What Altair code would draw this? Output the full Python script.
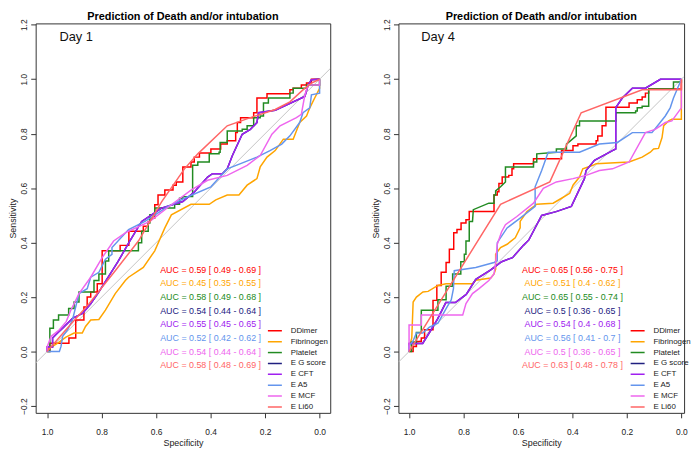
import altair as alt
import pandas as pd

SERIES = ["DDimer", "Fibrinogen", "Platelet", "E G score", "E CFT", "E A5", "E MCF", "E Li60"]
COLORS = ["#FF0000", "#FFA500", "#228B22", "#202080", "#A020F0", "#6495ED", "#EE66EE", "#FF6666"]

X_TICKS = [1.0, 0.8, 0.6, 0.4, 0.2, 0.0]
Y_TICKS = [-0.2, 0.0, 0.2, 0.4, 0.6, 0.8, 1.0, 1.2]

# ---------------- Day 1 ----------------
D1_DDIMER_SPEC = [1.0, 0.99, 0.99, 0.92, 0.92, 0.895, 0.895, 0.865, 0.865, 0.853, 0.853, 0.84, 0.84, 0.816, 0.816, 0.798, 0.798, 0.732, 0.732, 0.70, 0.70, 0.647, 0.647, 0.629, 0.629, 0.623, 0.623, 0.605, 0.605, 0.593, 0.593, 0.568, 0.568, 0.538, 0.538, 0.526, 0.526, 0.502, 0.502, 0.472, 0.472, 0.46, 0.46, 0.441, 0.441, 0.399, 0.399, 0.363, 0.363, 0.339, 0.339, 0.308, 0.308, 0.302, 0.302, 0.29, 0.29, 0.242, 0.242, 0.23, 0.23, 0.193, 0.193, 0.109, 0.109, 0.097, 0.097, 0.067, 0.067, 0.048, 0.048, 0.03, 0.03, 0.0]
D1_DDIMER_SENS = [0.0, 0.0, 0.031, 0.031, 0.05, 0.05, 0.116, 0.116, 0.164, 0.164, 0.2, 0.2, 0.219, 0.219, 0.249, 0.249, 0.37, 0.37, 0.39, 0.39, 0.442, 0.442, 0.46, 0.46, 0.478, 0.478, 0.49, 0.49, 0.539, 0.539, 0.575, 0.575, 0.593, 0.593, 0.611, 0.611, 0.623, 0.623, 0.678, 0.678, 0.696, 0.696, 0.714, 0.714, 0.729, 0.729, 0.744, 0.744, 0.762, 0.762, 0.774, 0.774, 0.804, 0.804, 0.841, 0.841, 0.859, 0.859, 0.877, 0.877, 0.931, 0.931, 0.947, 0.947, 0.961, 0.961, 0.967, 0.967, 0.979, 0.979, 0.986, 0.986, 1.0, 1.0]

D1_FIBR_SPEC = [1.0, 0.994, 0.98, 0.961, 0.931, 0.901, 0.871, 0.859, 0.84, 0.81, 0.786, 0.75, 0.713, 0.701, 0.647, 0.605, 0.568, 0.544, 0.472, 0.405, 0.381, 0.339, 0.296, 0.266, 0.23, 0.218, 0.193, 0.163, 0.133, 0.097, 0.073, 0.048, 0.036, 0.018, 0.0, 0.0]
D1_FIBR_SENS = [0.0, 0.013, 0.019, 0.031, 0.053, 0.068, 0.068, 0.092, 0.116, 0.118, 0.152, 0.213, 0.261, 0.273, 0.309, 0.37, 0.454, 0.502, 0.541, 0.541, 0.557, 0.575, 0.575, 0.611, 0.635, 0.678, 0.714, 0.738, 0.78, 0.78, 0.841, 0.865, 0.895, 0.931, 0.967, 1.0]

D1_PLT_SPEC = [1.0, 0.99, 0.99, 0.977, 0.977, 0.958, 0.958, 0.921, 0.921, 0.901, 0.901, 0.883, 0.883, 0.828, 0.828, 0.81, 0.81, 0.786, 0.786, 0.774, 0.774, 0.665, 0.665, 0.653, 0.653, 0.629, 0.629, 0.623, 0.623, 0.605, 0.605, 0.532, 0.532, 0.514, 0.514, 0.502, 0.502, 0.466, 0.466, 0.447, 0.447, 0.405, 0.405, 0.369, 0.369, 0.365, 0.365, 0.339, 0.339, 0.284, 0.284, 0.266, 0.266, 0.242, 0.242, 0.218, 0.218, 0.206, 0.206, 0.188, 0.188, 0.109, 0.109, 0.097, 0.097, 0.048, 0.048, 0.0, 0.0]
D1_PLT_SENS = [0.0, 0.0, 0.086, 0.086, 0.116, 0.116, 0.134, 0.134, 0.158, 0.158, 0.182, 0.182, 0.219, 0.219, 0.261, 0.261, 0.285, 0.285, 0.333, 0.333, 0.37, 0.37, 0.40, 0.40, 0.442, 0.442, 0.472, 0.472, 0.502, 0.502, 0.527, 0.527, 0.541, 0.541, 0.563, 0.563, 0.569, 0.569, 0.684, 0.684, 0.696, 0.696, 0.726, 0.726, 0.732, 0.732, 0.768, 0.768, 0.81, 0.81, 0.816, 0.816, 0.829, 0.829, 0.859, 0.859, 0.865, 0.865, 0.913, 0.913, 0.931, 0.931, 0.949, 0.949, 0.967, 0.967, 0.979, 0.979, 1.0]

D1_EG_SPEC = [1.0, 1.0, 0.98, 0.98, 0.96, 0.943, 0.907, 0.87, 0.84, 0.81, 0.78, 0.74, 0.70, 0.653, 0.58, 0.502, 0.459, 0.411, 0.393, 0.357, 0.339, 0.32, 0.284, 0.254, 0.23, 0.224, 0.163, 0.054, 0.042, 0.03, 0.0]
D1_EG_SENS = [0.0, 0.017, 0.017, 0.05, 0.07, 0.086, 0.122, 0.14, 0.175, 0.219, 0.267, 0.33, 0.40, 0.478, 0.527, 0.551, 0.587, 0.641, 0.653, 0.653, 0.671, 0.72, 0.798, 0.816, 0.841, 0.877, 0.886, 0.937, 0.979, 0.998, 1.0]

D1_CFT_SPEC = [1.0, 1.0, 0.98, 0.98, 0.96, 0.943, 0.907, 0.87, 0.84, 0.81, 0.78, 0.74, 0.70, 0.653, 0.58, 0.502, 0.459, 0.411, 0.393, 0.357, 0.339, 0.32, 0.284, 0.254, 0.23, 0.224, 0.163, 0.054, 0.042, 0.03, 0.0]
D1_CFT_SENS = [0.0, 0.017, 0.017, 0.05, 0.07, 0.086, 0.122, 0.14, 0.175, 0.219, 0.267, 0.33, 0.40, 0.478, 0.527, 0.551, 0.587, 0.641, 0.653, 0.653, 0.671, 0.72, 0.798, 0.816, 0.841, 0.877, 0.886, 0.937, 0.979, 0.998, 1.0]

D1_A5_SPEC = [1.0, 0.955, 0.949, 0.943, 0.925, 0.907, 0.883, 0.853, 0.84, 0.81, 0.786, 0.762, 0.762, 0.701, 0.641, 0.556, 0.496, 0.399, 0.339, 0.29, 0.23, 0.182, 0.139, 0.109, 0.073, 0.061, 0.036, 0.03, 0.0, 0.0]
D1_A5_SENS = [0.0, 0.0, 0.019, 0.056, 0.08, 0.116, 0.213, 0.231, 0.273, 0.291, 0.339, 0.357, 0.382, 0.448, 0.478, 0.533, 0.563, 0.605, 0.671, 0.69, 0.714, 0.738, 0.762, 0.792, 0.841, 0.877, 0.895, 0.943, 0.949, 1.0]

D1_MCF_SPEC = [1.0, 1.0, 0.985, 0.955, 0.93, 0.913, 0.883, 0.84, 0.798, 0.756, 0.713, 0.701, 0.623, 0.544, 0.472, 0.411, 0.339, 0.266, 0.218, 0.175, 0.145, 0.085, 0.067, 0.054, 0.042, 0.0, 0.0]
D1_MCF_SENS = [0.0, 0.017, 0.056, 0.08, 0.11, 0.152, 0.213, 0.273, 0.345, 0.406, 0.436, 0.442, 0.478, 0.539, 0.593, 0.629, 0.647, 0.684, 0.72, 0.798, 0.829, 0.859, 0.871, 0.943, 0.979, 0.979, 1.0]

D1_LI60_SPEC = [1.0, 0.931, 0.846, 0.75, 0.665, 0.58, 0.496, 0.447, 0.339, 0.254, 0.163, 0.109, 0.061, 0.03, 0.0]
D1_LI60_SENS = [0.0, 0.08, 0.176, 0.297, 0.406, 0.55, 0.671, 0.726, 0.829, 0.859, 0.889, 0.917, 0.961, 0.986, 1.0]

# ---------------- Day 4 ----------------
D4_DDIMER_SPEC = [1.0, 0.985, 0.985, 0.973, 0.973, 0.955, 0.955, 0.943, 0.943, 0.912, 0.912, 0.898, 0.898, 0.882, 0.882, 0.864, 0.864, 0.852, 0.852, 0.836, 0.836, 0.824, 0.824, 0.809, 0.809, 0.791, 0.791, 0.779, 0.779, 0.688, 0.688, 0.676, 0.676, 0.67, 0.67, 0.658, 0.658, 0.634, 0.634, 0.622, 0.622, 0.616, 0.616, 0.543, 0.543, 0.44, 0.44, 0.398, 0.398, 0.38, 0.38, 0.313, 0.313, 0.307, 0.307, 0.291, 0.291, 0.277, 0.277, 0.192, 0.192, 0.162, 0.162, 0.144, 0.144, 0.132, 0.132, 0.12, 0.12, 0.0, 0.0]
D4_DDIMER_SENS = [0.0, 0.0, 0.019, 0.019, 0.037, 0.037, 0.05, 0.05, 0.08, 0.08, 0.188, 0.188, 0.243, 0.243, 0.291, 0.291, 0.327, 0.327, 0.376, 0.376, 0.436, 0.436, 0.448, 0.448, 0.472, 0.472, 0.484, 0.484, 0.514, 0.514, 0.575, 0.575, 0.587, 0.587, 0.617, 0.617, 0.641, 0.641, 0.647, 0.647, 0.671, 0.671, 0.69, 0.69, 0.708, 0.708, 0.738, 0.738, 0.756, 0.756, 0.762, 0.762, 0.774, 0.774, 0.792, 0.792, 0.829, 0.829, 0.897, 0.897, 0.913, 0.913, 0.925, 0.925, 0.935, 0.935, 0.949, 0.949, 0.964, 0.964, 1.0]

D4_FIBR_SPEC = [1.0, 0.997, 0.99, 0.985, 0.973, 0.949, 0.93, 0.894, 0.864, 0.767, 0.755, 0.70, 0.688, 0.682, 0.682, 0.664, 0.64, 0.61, 0.592, 0.592, 0.567, 0.531, 0.471, 0.44, 0.41, 0.398, 0.374, 0.362, 0.325, 0.313, 0.192, 0.144, 0.114, 0.102, 0.084, 0.071, 0.065, 0.047, 0.035, 0.0, 0.0]
D4_FIBR_SENS = [0.0, 0.025, 0.05, 0.182, 0.2, 0.219, 0.221, 0.243, 0.249, 0.249, 0.262, 0.27, 0.285, 0.303, 0.357, 0.382, 0.394, 0.418, 0.454, 0.478, 0.514, 0.541, 0.545, 0.563, 0.581, 0.611, 0.641, 0.671, 0.684, 0.69, 0.696, 0.714, 0.732, 0.744, 0.746, 0.786, 0.829, 0.847, 0.853, 0.853, 1.0]

D4_PLT_SPEC = [1.0, 0.991, 0.991, 0.973, 0.973, 0.955, 0.955, 0.894, 0.894, 0.864, 0.864, 0.84, 0.84, 0.81, 0.81, 0.797, 0.797, 0.791, 0.791, 0.779, 0.779, 0.767, 0.764, 0.707, 0.688, 0.688, 0.682, 0.682, 0.664, 0.646, 0.646, 0.543, 0.543, 0.531, 0.531, 0.459, 0.459, 0.422, 0.422, 0.386, 0.386, 0.374, 0.374, 0.241, 0.241, 0.168, 0.168, 0.162, 0.162, 0.144, 0.144, 0.12, 0.12, 0.029, 0.029, 0.0, 0.0]
D4_PLT_SENS = [0.0, 0.0, 0.035, 0.035, 0.07, 0.07, 0.152, 0.152, 0.19, 0.19, 0.24, 0.24, 0.285, 0.285, 0.33, 0.33, 0.357, 0.357, 0.406, 0.406, 0.478, 0.478, 0.521, 0.545, 0.545, 0.575, 0.575, 0.59, 0.605, 0.623, 0.678, 0.678, 0.696, 0.696, 0.726, 0.732, 0.744, 0.744, 0.762, 0.792, 0.829, 0.829, 0.847, 0.847, 0.877, 0.877, 0.883, 0.883, 0.895, 0.895, 0.901, 0.901, 0.964, 0.964, 0.99, 0.99, 1.0]

D4_EG_SPEC = [1.0, 1.0, 0.95, 0.925, 0.895, 0.865, 0.83, 0.79, 0.755, 0.70, 0.66, 0.62, 0.58, 0.56, 0.513, 0.46, 0.404, 0.356, 0.35, 0.319, 0.253, 0.241, 0.241, 0.217, 0.18, 0.132, 0.077, 0.0]
D4_EG_SENS = [0.0, 0.03, 0.03, 0.07, 0.12, 0.18, 0.18, 0.21, 0.265, 0.30, 0.33, 0.345, 0.39, 0.41, 0.50, 0.514, 0.533, 0.635, 0.665, 0.702, 0.738, 0.744, 0.895, 0.931, 0.967, 0.967, 1.0, 1.0]

D4_CFT_SPEC = [1.0, 1.0, 0.95, 0.925, 0.895, 0.865, 0.83, 0.79, 0.755, 0.70, 0.66, 0.62, 0.58, 0.56, 0.513, 0.46, 0.404, 0.356, 0.35, 0.319, 0.253, 0.241, 0.241, 0.217, 0.18, 0.132, 0.077, 0.0]
D4_CFT_SENS = [0.0, 0.03, 0.03, 0.07, 0.12, 0.18, 0.18, 0.21, 0.265, 0.30, 0.33, 0.345, 0.39, 0.41, 0.50, 0.514, 0.533, 0.635, 0.665, 0.702, 0.738, 0.744, 0.895, 0.931, 0.967, 0.967, 1.0, 1.0]

D4_A5_SPEC = [1.0, 1.0, 0.985, 0.973, 0.95, 0.925, 0.894, 0.864, 0.845, 0.837, 0.834, 0.755, 0.688, 0.676, 0.676, 0.64, 0.592, 0.537, 0.537, 0.513, 0.489, 0.374, 0.301, 0.235, 0.18, 0.108, 0.083, 0.059, 0.041, 0.029, 0.0]
D4_A5_SENS = [0.0, 0.02, 0.04, 0.068, 0.068, 0.09, 0.104, 0.158, 0.19, 0.231, 0.297, 0.309, 0.327, 0.333, 0.4, 0.454, 0.49, 0.533, 0.605, 0.665, 0.732, 0.732, 0.762, 0.768, 0.804, 0.804, 0.835, 0.865, 0.895, 0.931, 1.0]

D4_MCF_SPEC = [1.0, 1.0, 0.955, 0.955, 0.803, 0.791, 0.767, 0.743, 0.707, 0.688, 0.682, 0.676, 0.66, 0.646, 0.604, 0.543, 0.507, 0.459, 0.398, 0.35, 0.301, 0.253, 0.192, 0.132, 0.096, 0.059, 0.035, 0.0, 0.0]
D4_MCF_SENS = [0.0, 0.098, 0.098, 0.134, 0.134, 0.176, 0.213, 0.231, 0.261, 0.285, 0.327, 0.394, 0.44, 0.466, 0.496, 0.545, 0.599, 0.623, 0.635, 0.647, 0.665, 0.671, 0.696, 0.804, 0.816, 0.841, 0.847, 0.895, 1.0]

D4_LI60_SPEC = [1.0, 0.664, 0.483, 0.368, 0.144, 0.0, 0.0]
D4_LI60_SENS = [0.0, 0.541, 0.623, 0.877, 0.961, 0.961, 1.0]

AUC_D1 = ["AUC = 0.59 [ 0.49 - 0.69 ]", "AUC = 0.45 [ 0.35 - 0.55 ]", "AUC = 0.58 [ 0.49 - 0.68 ]",
          "AUC = 0.54 [ 0.44 - 0.64 ]", "AUC = 0.55 [ 0.45 - 0.65 ]", "AUC = 0.52 [ 0.42 - 0.62 ]",
          "AUC = 0.54 [ 0.44 - 0.64 ]", "AUC = 0.58 [ 0.48 - 0.69 ]"]
AUC_D4 = ["AUC = 0.65 [ 0.56 - 0.75 ]", "AUC = 0.51 [ 0.4 - 0.62 ]", "AUC = 0.65 [ 0.55 - 0.74 ]",
          "AUC = 0.5 [ 0.36 - 0.65 ]", "AUC = 0.54 [ 0.4 - 0.68 ]", "AUC = 0.56 [ 0.41 - 0.7 ]",
          "AUC = 0.5 [ 0.36 - 0.65 ]", "AUC = 0.63 [ 0.48 - 0.78 ]"]
AUC_Y = [0.30, 0.25, 0.20, 0.15, 0.10, 0.05, 0.0, -0.05]
AUC_X = 0.4

D1_CURVES = [(D1_DDIMER_SPEC, D1_DDIMER_SENS), (D1_FIBR_SPEC, D1_FIBR_SENS), (D1_PLT_SPEC, D1_PLT_SENS),
             (D1_EG_SPEC, D1_EG_SENS), (D1_CFT_SPEC, D1_CFT_SENS), (D1_A5_SPEC, D1_A5_SENS),
             (D1_MCF_SPEC, D1_MCF_SENS), (D1_LI60_SPEC, D1_LI60_SENS)]
D4_CURVES = [(D4_DDIMER_SPEC, D4_DDIMER_SENS), (D4_FIBR_SPEC, D4_FIBR_SENS), (D4_PLT_SPEC, D4_PLT_SENS),
             (D4_EG_SPEC, D4_EG_SENS), (D4_CFT_SPEC, D4_CFT_SENS), (D4_A5_SPEC, D4_A5_SENS),
             (D4_MCF_SPEC, D4_MCF_SENS), (D4_LI60_SPEC, D4_LI60_SENS)]

TITLE = "Prediction of Death and/or intubation"
Y_DOMAIN = [-0.225, 1.205]
FONT = "Liberation Sans"


def panel(curves, aucs, day, xdom, width, height):
    rows = []
    for s, (sp, se) in zip(SERIES, curves):
        for i, (a, b) in enumerate(zip(sp, se)):
            rows.append({"series": s, "spec": a, "sens": b, "idx": i})
    df = pd.DataFrame(rows)

    xs = alt.Scale(domain=xdom, reverse=True, nice=False, zero=False)
    ys = alt.Scale(domain=Y_DOMAIN, nice=False, zero=False)
    x_enc = alt.X("spec:Q", scale=xs, title="Specificity",
                  axis=alt.Axis(values=X_TICKS, format=".1f", labelPadding=10, titlePadding=3))
    y_enc = alt.Y("sens:Q", scale=ys, title="Sensitivity",
                  axis=alt.Axis(values=Y_TICKS, format=".1f", labelAngle=270, labelAlign="center",
                                labelBaseline="alphabetic", labelPadding=4, titlePadding=2))

    diag_df = pd.DataFrame({"spec": [xdom[0], xdom[1]], "sens": [1 - xdom[0], 1 - xdom[1]]})
    diag = alt.Chart(diag_df).mark_line(color="#C4C4C4", strokeWidth=1, clip=True).encode(x=x_enc, y=y_enc)

    lines = alt.Chart(df).mark_line(strokeWidth=1.5, clip=True).encode(
        x=x_enc, y=y_enc,
        color=alt.Color("series:N", title=None,
                        scale=alt.Scale(domain=SERIES, range=COLORS),
                        legend=alt.Legend(orient="none", legendX=234, legendY=305.5,
                                          symbolType="stroke", symbolSize=200, symbolStrokeWidth=1.5,
                                          labelFontSize=8, labelOffset=8, rowPadding=0, padding=0,
                                          clipHeight=11,
                                          labelColor="#222222", labelFont=FONT)),
        order=alt.Order("idx:Q"),
    )

    auc_df = pd.DataFrame({"series": SERIES, "label": aucs, "sens": AUC_Y, "spec": [AUC_X] * len(SERIES)})
    auc = alt.Chart(auc_df).mark_text(fontSize=9, align="center", baseline="middle", font=FONT).encode(
        x="spec:Q", y="sens:Q", text="label:N",
        fill=alt.Fill("series:N", scale=alt.Scale(domain=SERIES, range=COLORS), legend=None),
    )

    day_df = pd.DataFrame({"spec": [0.955], "sens": [1.141], "label": [day]})
    daytxt = alt.Chart(day_df).mark_text(fontSize=13, align="left", baseline="alphabetic",
                                         color="#111111", font=FONT).encode(
        x="spec:Q", y="sens:Q", text="label:N")

    title_df = pd.DataFrame({"label": [TITLE]})
    title = alt.Chart(title_df).mark_text(fontSize=11, fontWeight="bold", align="center",
                                          baseline="alphabetic", color="#000000", font=FONT).encode(
        x=alt.value(width / 2), y=alt.value(-3), text="label:N")

    return alt.layer(diag, lines, auc, daytxt, title).properties(width=width, height=height)


left = panel(D1_CURVES, AUC_D1, "Day 1", [-0.039, 1.042], 298, 394)
right = panel(D4_CURVES, AUC_D4, "Day 4", [-0.010, 1.039], 289, 394)

chart = alt.hconcat(left, right, spacing=40).resolve_scale(
    color="independent", fill="independent", x="independent", y="independent"
).properties(padding=0).configure(font=FONT).configure_view(
    stroke="#333333", strokeWidth=1
).configure_axis(
    grid=False, domain=False, tickSize=5, tickColor="#333333",
    labelFontSize=8.5, titleFontSize=9, labelColor="#222222", titleColor="#222222",
    titleFontWeight="normal", labelFont=FONT, titleFont=FONT,
)

chart.save("out.html", embed_options={"renderer": "svg", "actions": False})
